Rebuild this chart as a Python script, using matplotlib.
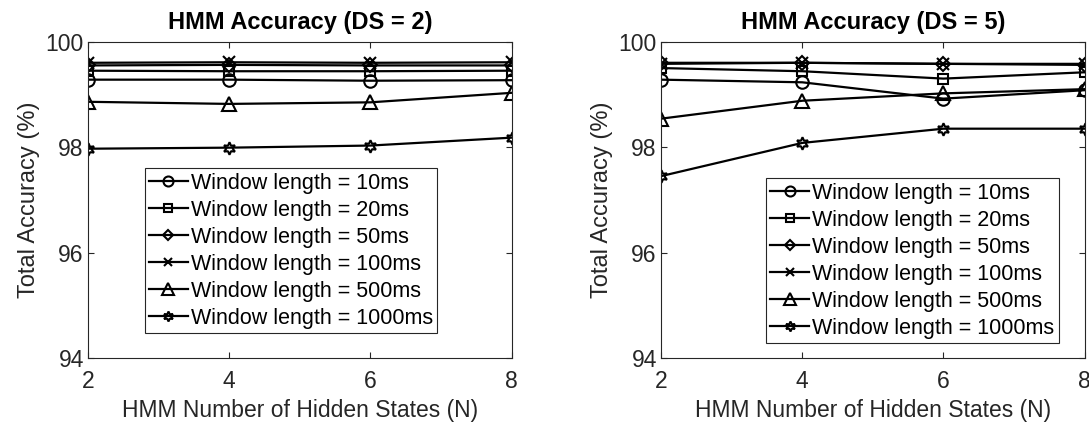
import matplotlib.pyplot as plt

plt.rcParams['font.family'] = ['Liberation Sans', 'DejaVu Sans']

states = [2, 4, 6, 8]
labels = ['Window length = 10ms', 'Window length = 20ms', 'Window length = 50ms',
          'Window length = 100ms', 'Window length = 500ms', 'Window length = 1000ms']
markers = ['o', 's', 'D', 'x', '^', (6, 1, 0)]
msizes = [9, 7, 7, 8, 10, 9]

# DS = 2
ds2 = [
    [99.28, 99.28, 99.26, 99.27],
    [99.45, 99.44, 99.44, 99.45],
    [99.55, 99.56, 99.55, 99.55],
    [99.60, 99.61, 99.60, 99.61],
    [98.86, 98.82, 98.85, 99.03],
    [97.97, 97.99, 98.03, 98.18],
]
# DS = 5
ds5 = [
    [99.28, 99.23, 98.92, 99.08],
    [99.50, 99.44, 99.30, 99.42],
    [99.60, 99.60, 99.58, 99.56],
    [99.58, 99.60, 99.58, 99.58],
    [98.54, 98.88, 99.02, 99.10],
    [97.45, 98.08, 98.35, 98.35],
]

fig = plt.figure(figsize=(10.89, 4.23), dpi=100)
ax1 = fig.add_axes([0.0808, 0.1537, 0.389, 0.7477])
ax2 = fig.add_axes([0.607, 0.1537, 0.389, 0.7477])

for ax, data, title, anchor in [(ax1, ds2, 'HMM Accuracy (DS = 2)', (0.134, 0.079)),
                                (ax2, ds5, 'HMM Accuracy (DS = 5)', (0.248, 0.047))]:
    for vals, lab, m, ms in zip(data, labels, markers, msizes):
        ax.plot(states, vals, color='black', lw=1.6, marker=m, ms=ms,
                mfc='none', mec='black', mew=1.5, label=lab)
    ax.set_xlim(2, 8)
    ax.set_ylim(94, 100)
    ax.set_xticks(states)
    ax.set_yticks([94, 96, 98, 100])
    ax.tick_params(direction='in', top=True, right=True, labelsize=16.5, length=4,
                   colors='#262626')
    ax.tick_params(axis='x', pad=9)
    ax.tick_params(axis='y', pad=3)
    for s in ax.spines.values():
        s.set_color('#262626')
        s.set_linewidth(0.8)
    ax.set_title(title, fontsize=17, fontweight='bold', pad=9)
    ax.set_xlabel('HMM Number of Hidden States (N)', fontsize=16.5, color='#262626',
                  labelpad=4)
    ax.set_ylabel('Total Accuracy (%)', fontsize=17, color='#262626', labelpad=4)
    leg = ax.legend(loc='lower left', bbox_to_anchor=anchor, fontsize=15.5,
                    fancybox=False, framealpha=1, edgecolor='#262626',
                    handlelength=1.8, handletextpad=0.15, labelspacing=0.28,
                    borderpad=0.2, borderaxespad=0, markerscale=0.8)
    leg.get_frame().set_linewidth(0.8)

fig.savefig('out.png', dpi=100)
